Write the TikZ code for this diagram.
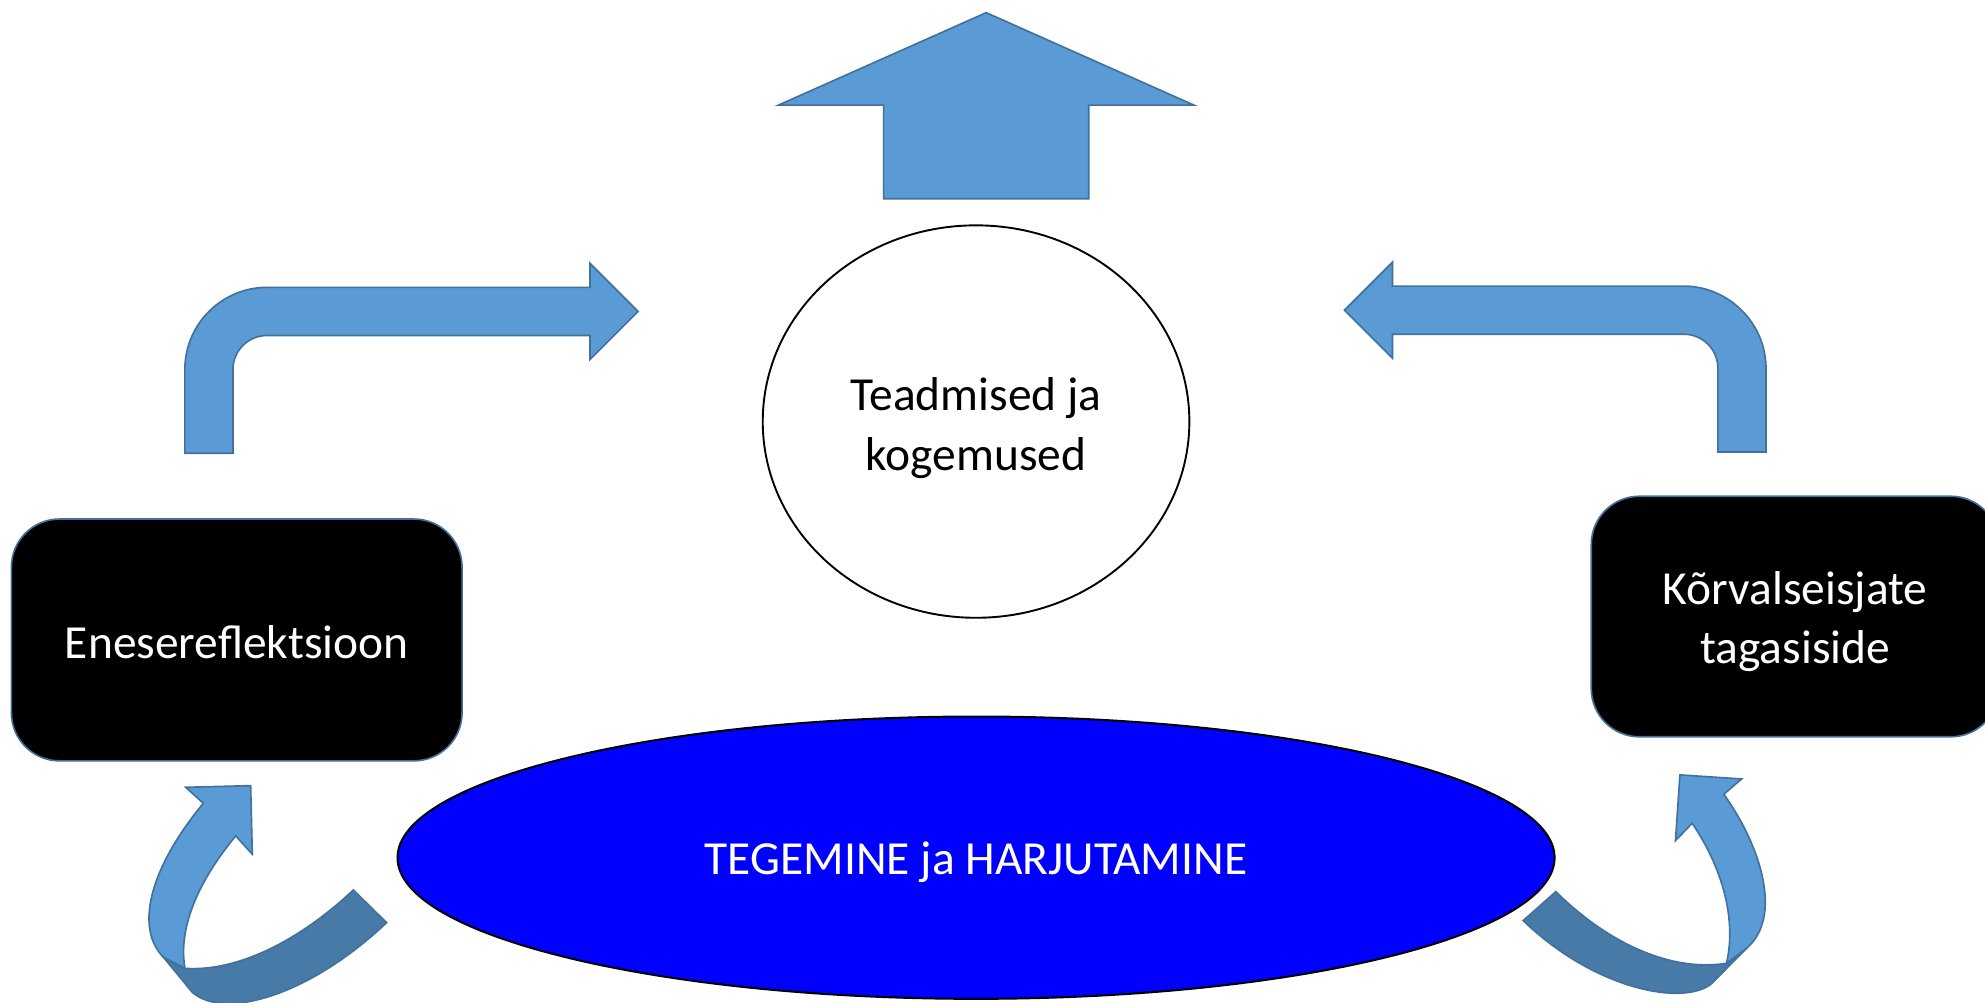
\documentclass[tikz,border=0pt]{standalone}
\usepackage{fontspec}
\setmainfont{Carlito}
\usetikzlibrary{shapes.geometric}
\definecolor{arrowfill}{HTML}{5B9BD5}
\definecolor{arrowdark}{HTML}{487AA8}
\definecolor{edgeblue}{HTML}{41719C}
\tikzset{
  arrowshape/.style={fill=arrowfill, draw=edgeblue, line width=1.3pt, line join=miter},
  arrowback/.style={fill=arrowdark, draw=edgeblue, line width=1.3pt},
  blackbox/.style={rectangle, rounded corners=38pt, fill=black, draw=edgeblue, line width=1.3pt, inner sep=0pt},
  bigtext/.style={font=\fontsize{37.5}{47}\selectfont, align=center, inner sep=0pt},
}
\begin{document}
\begin{tikzpicture}[x=1pt,y=-1pt]
\useasboundingbox (0,0) rectangle (1568,792);
\begin{scope}
\clip (0,0) rectangle (1568,792);
% top up arrow
\draw[arrowshape] (698,157) -- (698,83) -- (615,83) -- (779,10) -- (943,83) -- (860,83) -- (860,157) -- cycle;
% left bent arrow
\draw[arrowshape] (146,358) -- (146,292) .. controls (146,256.1) and (175.1,227) .. (211,227)
  -- (466,227) -- (466,208) -- (504,246) -- (466,284) -- (466,265) -- (211,265)
  .. controls (196.1,265) and (184,276.9) .. (184,292) -- (184,358) -- cycle;
% right bent arrow
\draw[arrowshape] (1395,357) -- (1395,291) .. controls (1395,255.1) and (1365.1,226) .. (1330,226)
  -- (1100,226) -- (1100,207) -- (1062,245) -- (1100,283) -- (1100,264) -- (1330,264)
  .. controls (1344.9,264) and (1357,275.9) .. (1357,291) -- (1357,357) -- cycle;
% circle
\node[ellipse, draw=black, fill=white, line width=1.5pt, minimum width=337pt, minimum height=310pt, inner sep=0pt] (know) at (771,333) {};
\node[bigtext, text=black] (knowtext) at (771,338) {Teadmised ja\\kogemused};
% boxes
\node[blackbox, minimum width=356pt, minimum height=191pt] (self) at (187,505.5) {};
\node[bigtext, text=white] (selftext) at (187,507) {Enesereflektsioon};
\node[blackbox, minimum width=322pt, minimum height=190pt] (peer) at (1418,487) {};
\node[bigtext, text=white] (peertext) at (1418,491) {Kõrvalseisjate\\tagasiside};
% blue ellipse
\node[ellipse, draw=black, fill=blue, line width=1.6pt, minimum width=914pt, minimum height=223pt, inner sep=0pt] (do) at (771,677.5) {};
\node[bigtext, text=white] (dotext) at (771,681) {TEGEMINE ja HARJUTAMINE};
% left curved arrow: back band
\draw[arrowback] (305.4,728.8) -- (279.1,703) .. controls (240,740) and (190,768) .. (146.1,764.9)
  -- (129,756) -- (152,784) .. controls (178,806) and (245,786) .. (305.4,728.8) -- cycle;
% left curved arrow: front band with head
\draw[arrowshape] (146.7,621.9) -- (198,620.6) -- (199.3,674.8) -- (186.2,660.3)
  .. controls (160,692) and (140,730) .. (146.1,764.9) -- (129,756)
  .. controls (108,735) and (115,690) .. (160.6,634.5) -- cycle;
% right curved arrow: back band
\draw[arrowback] (1203.2,727.2) -- (1229,704.3) .. controls (1270,745) and (1320,768) .. (1363.8,760.9)
  -- (1379.6,749.1) -- (1352,777) .. controls (1330,795) and (1260,782) .. (1203.2,727.2) -- cycle;
% right curved arrow: front band with head
\draw[arrowshape] (1323.5,664) -- (1327,612.1) -- (1375.7,615.3) -- (1361.7,627.4)
  .. controls (1392,670) and (1408,725) .. (1379.6,749.1) -- (1363.8,760.9)
  .. controls (1372,725) and (1360,685) .. (1336.7,650.3) -- cycle;
\end{scope}
\end{tikzpicture}
\end{document}
